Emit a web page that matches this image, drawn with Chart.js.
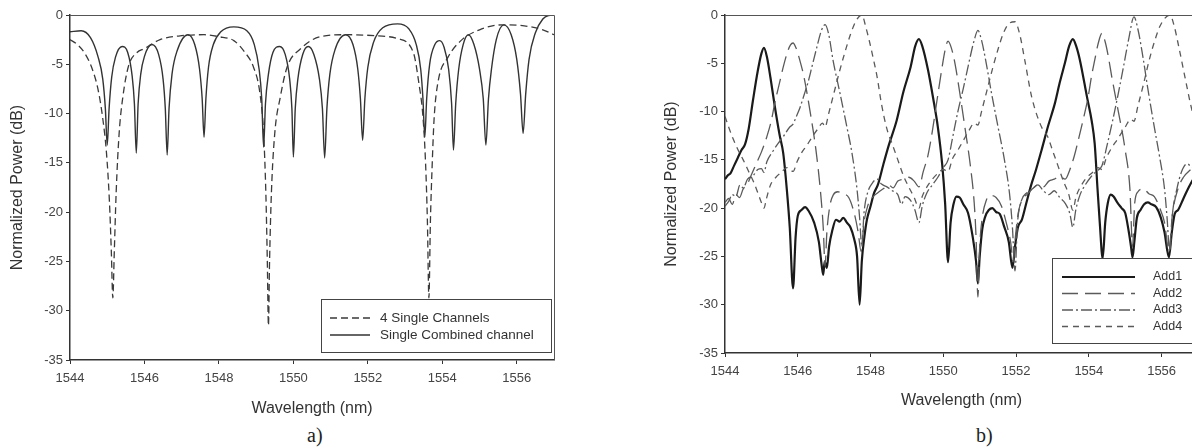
<!DOCTYPE html>
<html>
<head>
<meta charset="utf-8">
<script src="https://cdn.jsdelivr.net/npm/chart.js@4.4.1/dist/chart.umd.min.js"></script>
<style>
  html, body { margin: 0; padding: 0; background: #fff; overflow: hidden; width: 1192px; height: 448px; }
  #wrapA { position: absolute; left: 0; top: 0; width: 590px; height: 420px; }
  #wrapB { position: absolute; left: 590px; top: 0; width: 620px; height: 420px; }
  .cap { position: absolute; top: 424px; font-family: "Liberation Serif", "DejaVu Serif", serif; font-size: 20px; color: #222; }
</style>
</head>
<body>
<div id="wrapA"><canvas id="chart-a" width="590" height="420"></canvas></div>
<div id="wrapB"><canvas id="chart-b" width="620" height="420"></canvas></div>
<div class="cap" style="left:307px">a)</div>
<div class="cap" style="left:976px">b)</div>
<script>
// --- DATA ---
// [wavelength nm, normalized power dB]
const xTicks = [1544, 1546, 1548, 1550, 1552, 1554, 1556];
const yTicks = [0, -5, -10, -15, -20, -25, -30, -35];

// panel a) dashed
const singleChannels = [
  [1544.0,-2.5],[1544.2,-3.0],[1544.4,-3.9],[1544.6,-5.5],[1544.75,-7.5],[1544.88,-10.5],[1544.98,-14],
  [1545.06,-19],[1545.11,-24],[1545.15,-28.7],[1545.19,-24],[1545.24,-18],[1545.32,-12],[1545.42,-8.3],
  [1545.57,-5.2],[1545.8,-3.8],[1546.0,-3.4],[1546.42,-2.5],[1547.0,-2.1],[1547.6,-2.0],[1548.0,-2.2],
  [1548.4,-2.6],[1548.7,-3.8],[1548.93,-5.3],[1549.1,-7.9],[1549.2,-12],[1549.26,-18],[1549.3,-25],
  [1549.33,-31.5],[1549.36,-25],[1549.41,-18],[1549.5,-12],[1549.65,-8.3],[1549.83,-5.3],[1550.2,-3.4],
  [1550.73,-2.2],[1551.45,-2.0],[1552.2,-2.1],[1552.8,-2.4],[1553.23,-3.9],[1553.37,-6.9],[1553.48,-10.3],
  [1553.55,-15],[1553.6,-21],[1553.64,-28.7],[1553.68,-21],[1553.73,-15],[1553.78,-10.5],[1553.88,-6.9],
  [1554.15,-4.3],[1554.5,-2.6],[1555.0,-1.5],[1555.6,-1.0],[1556.2,-1.1],[1556.7,-1.5],[1557.0,-2.0]
];

// panel a) solid
const combinedChannel = [
  [1544.0,-1.7],[1544.3,-1.6],[1544.55,-2.3],[1544.75,-4.2],[1544.88,-6.5],[1544.95,-9.5],[1545.0,-13.2],
  [1545.05,-9.5],[1545.12,-6.3],[1545.22,-4.3],[1545.4,-3.2],[1545.55,-3.8],[1545.67,-6.2],[1545.73,-9],
  [1545.78,-14.0],[1545.83,-9],[1545.9,-6],[1546.0,-4.2],[1546.2,-3.0],[1546.38,-4],[1546.5,-6.5],
  [1546.56,-9.5],[1546.61,-14.2],[1546.66,-9.5],[1546.74,-6],[1546.88,-3.6],[1547.17,-2.0],[1547.35,-3],
  [1547.48,-5.5],[1547.55,-8.5],[1547.6,-12.4],[1547.65,-8.5],[1547.72,-5.3],[1547.85,-3],[1548.05,-1.7],
  [1548.4,-1.2],[1548.75,-1.6],[1548.95,-3],[1549.08,-5.5],[1549.15,-8.5],[1549.2,-13.4],[1549.25,-9],
  [1549.33,-6],[1549.45,-3.8],[1549.63,-3.2],[1549.78,-4],[1549.9,-6.5],[1549.96,-9.5],[1550.0,-14.4],
  [1550.05,-9.5],[1550.12,-6.5],[1550.25,-4],[1550.4,-3.2],[1550.55,-4],[1550.7,-6.5],[1550.78,-9.5],
  [1550.84,-14.5],[1550.9,-9.5],[1550.98,-6],[1551.12,-3.5],[1551.4,-2.0],[1551.6,-3],[1551.73,-5.5],
  [1551.8,-8.5],[1551.86,-12.7],[1551.92,-8.5],[1552.0,-5.3],[1552.15,-2.8],[1552.4,-1.3],[1552.8,-0.9],
  [1553.1,-1.4],[1553.3,-3],[1553.42,-5.5],[1553.48,-8.5],[1553.53,-12.4],[1553.58,-8.5],[1553.66,-5],
  [1553.8,-3],[1553.93,-2.6],[1554.05,-3.3],[1554.17,-5.5],[1554.25,-9],[1554.3,-13.7],[1554.36,-9],
  [1554.44,-5.5],[1554.56,-3],[1554.7,-2.0],[1554.85,-3],[1555.0,-5.5],[1555.1,-8.5],[1555.17,-13.2],
  [1555.24,-8.5],[1555.32,-5.5],[1555.45,-2.5],[1555.65,-1.0],[1555.85,-2],[1556.0,-4.5],[1556.1,-8],
  [1556.17,-12.0],[1556.24,-8],[1556.33,-4.5],[1556.5,-1.8],[1556.7,-0.4],[1556.85,-0.05],[1557.0,0]
];

// panel b) Add1..Add4
const add1 = [
  [1544.0,-17.0],[1544.08,-16.6],[1544.15,-16.4],[1544.25,-15.6],[1544.35,-14.8],[1544.45,-14.0],[1544.55,-13.4],
  [1544.65,-11.8],[1544.77,-8.8],[1544.9,-5.8],[1545.0,-4.0],[1545.07,-3.4],[1545.15,-4.3],[1545.25,-6.5],
  [1545.37,-9.5],[1545.5,-12.4],[1545.6,-14.3],[1545.7,-18.1],[1545.78,-22.0],[1545.87,-28.3],[1545.94,-23.0],
  [1546.0,-20.8],[1546.1,-20.2],[1546.2,-19.9],[1546.3,-20.3],[1546.45,-21.5],[1546.58,-23.5],[1546.66,-26.0],
  [1546.7,-26.9],[1546.74,-25.5],[1546.8,-26.2],[1546.86,-24.0],[1546.95,-22.3],[1547.05,-21.2],[1547.15,-21.4],
  [1547.25,-21.0],[1547.35,-21.5],[1547.45,-22.0],[1547.55,-23.2],[1547.63,-25.0],[1547.7,-30.0],[1547.76,-25.5],
  [1547.83,-23.0],[1547.9,-21.2],[1548.0,-19.8],[1548.1,-18.4],[1548.2,-17.6],[1548.35,-15.5],[1548.5,-13.5],
  [1548.72,-10.9],[1548.9,-8.0],[1549.1,-5.4],[1549.23,-3.2],[1549.33,-2.5],[1549.42,-3.2],[1549.58,-5.7],
  [1549.72,-8.6],[1549.85,-11.6],[1549.97,-15.5],[1550.05,-19.5],[1550.13,-25.6],[1550.2,-21.5],[1550.28,-19.6],
  [1550.36,-18.8],[1550.45,-18.9],[1550.55,-19.6],[1550.68,-20.5],[1550.8,-22.8],[1550.9,-25.5],[1550.95,-27.8],
  [1551.0,-25.0],[1551.07,-22.2],[1551.15,-20.9],[1551.25,-20.2],[1551.35,-20.0],[1551.45,-20.4],[1551.55,-20.6],
  [1551.68,-22.0],[1551.8,-23.5],[1551.9,-26.2],[1551.97,-24.0],[1552.05,-22.0],[1552.16,-21.2],[1552.28,-19.5],
  [1552.4,-17.8],[1552.55,-16.0],[1552.7,-14.0],[1552.88,-11.5],[1553.07,-9.1],[1553.2,-7.0],[1553.34,-5.0],
  [1553.46,-3.2],[1553.56,-2.5],[1553.65,-3.2],[1553.75,-4.6],[1553.95,-8.5],[1554.08,-11.0],[1554.16,-13.3],
  [1554.24,-18.1],[1554.3,-21.5],[1554.38,-25.2],[1554.45,-21.5],[1554.52,-19.5],[1554.6,-18.6],[1554.68,-18.8],
  [1554.78,-19.4],[1554.9,-20.0],[1555.0,-20.5],[1555.1,-22.5],[1555.16,-24.0],[1555.2,-25.1],[1555.25,-23.5],
  [1555.32,-21.0],[1555.42,-20.2],[1555.52,-19.6],[1555.62,-19.4],[1555.72,-19.6],[1555.85,-19.9],[1555.98,-21.0],
  [1556.08,-22.5],[1556.2,-25.1],[1556.28,-22.5],[1556.36,-20.6],[1556.45,-20.2],[1556.6,-19.0],[1556.75,-17.8],
  [1556.9,-16.8],[1557.0,-16.2]
];
const add2 = [
  [1544.0,-19.4],[1544.1,-19.0],[1544.2,-19.6],[1544.3,-18.6],[1544.4,-18.9],[1544.5,-18.0],[1544.6,-17.6],
  [1544.72,-16.6],[1544.87,-15.3],[1545.0,-14.2],[1545.15,-12.6],[1545.27,-11.0],[1545.37,-9.1],[1545.5,-7.0],
  [1545.6,-5.4],[1545.72,-3.8],[1545.8,-3.1],[1545.87,-2.9],[1545.95,-3.4],[1546.05,-4.6],[1546.17,-6.4],
  [1546.33,-9.8],[1546.5,-14.0],[1546.62,-18.1],[1546.7,-22.0],[1546.75,-26.0],[1546.8,-22.5],[1546.88,-19.8],
  [1546.98,-18.6],[1547.1,-18.3],[1547.25,-18.5],[1547.4,-18.9],[1547.55,-20.5],[1547.66,-22.5],[1547.74,-24.5],
  [1547.82,-21.5],[1547.92,-19.8],[1548.05,-18.9],[1548.2,-18.4],[1548.35,-18.0],[1548.5,-17.6],[1548.62,-17.9],
  [1548.75,-17.2],[1548.9,-17.0],[1549.05,-16.8],[1549.2,-17.2],[1549.33,-17.8],[1549.45,-16.2],[1549.58,-14.5],
  [1549.7,-12.0],[1549.82,-9.0],[1549.95,-5.8],[1550.05,-3.6],[1550.13,-2.7],[1550.22,-3.4],[1550.32,-5.0],
  [1550.45,-8.0],[1550.6,-11.8],[1550.75,-15.8],[1550.85,-19.5],[1550.9,-23.0],[1550.95,-29.2],[1551.0,-24.0],
  [1551.07,-21.0],[1551.18,-19.2],[1551.3,-18.7],[1551.45,-18.9],[1551.6,-19.8],[1551.75,-21.8],[1551.85,-23.5],
  [1551.92,-25.5],[1551.98,-23.0],[1552.06,-20.5],[1552.18,-19.0],[1552.3,-18.6],[1552.45,-18.0],[1552.6,-17.6],
  [1552.75,-17.8],[1552.9,-17.2],[1553.05,-17.0],[1553.2,-16.7],[1553.35,-17.0],[1553.48,-16.0],[1553.6,-14.6],
  [1553.72,-12.8],[1553.84,-10.9],[1553.98,-8.5],[1554.08,-6.2],[1554.16,-4.7],[1554.26,-2.9],[1554.36,-1.9],
  [1554.45,-2.8],[1554.53,-4.2],[1554.63,-6.4],[1554.8,-9.8],[1555.0,-14.0],[1555.13,-18.1],[1555.2,-24.0],
  [1555.26,-19.5],[1555.35,-18.3],[1555.5,-18.0],[1555.65,-18.5],[1555.8,-18.8],[1555.95,-20.0],[1556.08,-21.5],
  [1556.2,-24.5],[1556.3,-20.5],[1556.45,-18.0],[1556.6,-16.8],[1556.8,-16.0],[1557.0,-15.4]
];
const add3 = [
  [1544.0,-19.8],[1544.1,-19.3],[1544.2,-18.6],[1544.3,-18.8],[1544.41,-17.6],[1544.5,-17.9],[1544.62,-17.0],
  [1544.78,-16.6],[1544.9,-16.0],[1545.0,-15.9],[1545.07,-16.3],[1545.15,-15.2],[1545.3,-14.2],[1545.46,-13.3],
  [1545.6,-12.6],[1545.78,-11.6],[1545.87,-11.3],[1545.95,-10.6],[1546.06,-9.6],[1546.18,-8.2],[1546.28,-7.0],
  [1546.4,-5.2],[1546.52,-3.4],[1546.65,-1.6],[1546.75,-1.0],[1546.85,-2.0],[1546.97,-4.7],[1547.16,-8.1],
  [1547.35,-11.6],[1547.49,-14.3],[1547.63,-18.1],[1547.7,-21.0],[1547.76,-24.0],[1547.82,-20.5],[1547.92,-18.4],
  [1548.05,-17.4],[1548.18,-17.0],[1548.3,-17.5],[1548.45,-17.8],[1548.6,-18.2],[1548.75,-18.6],[1548.85,-19.6],
  [1548.95,-18.8],[1549.1,-19.2],[1549.22,-20.2],[1549.33,-21.5],[1549.42,-19.8],[1549.55,-18.4],[1549.7,-17.6],
  [1549.85,-16.8],[1550.0,-15.8],[1550.13,-15.0],[1550.25,-12.8],[1550.4,-10.0],[1550.55,-7.6],[1550.7,-5.0],
  [1550.85,-2.6],[1550.95,-1.6],[1551.05,-2.6],[1551.18,-5.0],[1551.32,-8.0],[1551.5,-11.5],[1551.68,-15.0],
  [1551.82,-18.5],[1551.9,-22.0],[1551.97,-26.5],[1552.04,-21.5],[1552.15,-19.2],[1552.3,-18.4],[1552.45,-18.0],
  [1552.6,-17.6],[1552.75,-18.2],[1552.9,-18.6],[1553.05,-18.2],[1553.2,-18.9],[1553.35,-19.5],[1553.48,-20.6],
  [1553.56,-22.0],[1553.64,-20.2],[1553.76,-18.6],[1553.9,-17.6],[1554.05,-16.8],[1554.2,-16.2],[1554.36,-15.6],
  [1554.5,-13.5],[1554.65,-11.0],[1554.8,-8.3],[1554.95,-5.4],[1555.1,-2.4],[1555.24,-0.2],[1555.35,-1.5],
  [1555.48,-4.2],[1555.62,-7.6],[1555.78,-11.2],[1555.95,-14.8],[1556.08,-18.0],[1556.15,-21.0],[1556.22,-24.5],
  [1556.3,-20.5],[1556.42,-18.0],[1556.55,-16.2],[1556.7,-15.4],[1556.85,-15.8],[1557.0,-15.0]
];
const add4 = [
  [1544.0,-10.5],[1544.1,-11.6],[1544.22,-12.8],[1544.35,-13.9],[1544.5,-15.0],[1544.65,-16.2],[1544.8,-17.4],
  [1544.92,-18.6],[1545.02,-19.6],[1545.07,-20.0],[1545.14,-19.0],[1545.25,-17.6],[1545.4,-16.8],[1545.55,-16.3],
  [1545.7,-15.8],[1545.87,-16.2],[1545.98,-15.2],[1546.1,-14.3],[1546.25,-13.5],[1546.4,-12.6],[1546.55,-11.8],
  [1546.68,-11.2],[1546.75,-11.6],[1546.85,-10.2],[1547.0,-8.0],[1547.15,-5.8],[1547.3,-3.8],[1547.45,-2.0],
  [1547.6,-0.6],[1547.76,0.0],[1547.88,-1.4],[1547.98,-2.9],[1548.08,-4.6],[1548.18,-6.4],[1548.3,-9.2],
  [1548.45,-11.8],[1548.6,-13.4],[1548.75,-15.0],[1548.9,-16.6],[1549.05,-17.8],[1549.2,-18.9],[1549.33,-20.0],
  [1549.42,-18.8],[1549.55,-17.8],[1549.7,-17.0],[1549.85,-16.4],[1550.0,-16.0],[1550.13,-16.2],[1550.25,-14.9],
  [1550.4,-14.0],[1550.55,-13.0],[1550.7,-12.0],[1550.85,-11.2],[1550.95,-11.4],[1551.05,-10.0],[1551.2,-7.8],
  [1551.35,-5.6],[1551.5,-3.6],[1551.65,-1.9],[1551.8,-0.9],[1551.97,-0.7],[1552.1,-2.0],[1552.24,-4.7],
  [1552.43,-8.5],[1552.7,-11.6],[1552.87,-12.6],[1553.0,-14.0],[1553.15,-15.6],[1553.3,-17.2],[1553.45,-18.6],
  [1553.56,-20.2],[1553.65,-18.8],[1553.8,-17.6],[1553.95,-16.8],[1554.1,-16.3],[1554.25,-15.8],[1554.36,-16.0],
  [1554.48,-14.8],[1554.62,-13.8],[1554.8,-12.8],[1555.0,-11.6],[1555.15,-10.8],[1555.24,-11.0],[1555.35,-9.4],
  [1555.5,-7.2],[1555.65,-4.8],[1555.8,-2.8],[1555.95,-1.2],[1556.1,-0.3],[1556.23,0.0],[1556.35,-1.2],
  [1556.45,-2.9],[1556.64,-6.4],[1556.83,-9.8],[1557.0,-12.0]
];

// --- UTILS ---
const FONT = '"Liberation Sans", Arial, sans-serif';
const toXY = (arr) => arr.map(p => ({ x: p[0], y: p[1] }));

function lineSet(label, arr, color, width, dash) {
  return {
    label: label,
    data: toXY(arr),
    borderColor: color,
    borderWidth: width,
    borderDash: dash,
    pointRadius: 0,
    fill: false,
    cubicInterpolationMode: 'monotone'
  };
}

// box round the plot (top + right edges) and the inset legend
const framePlugin = {
  id: 'frame',
  afterDatasetsDraw(chart, args, opts) {
    const ctx = chart.ctx;
    const a = chart.chartArea;
    ctx.save();
    ctx.strokeStyle = '#555';
    ctx.lineWidth = 1;
    ctx.beginPath();
    ctx.moveTo(a.left, a.top + 0.5);
    ctx.lineTo(a.right + 0.5, a.top + 0.5);
    ctx.lineTo(a.right + 0.5, a.bottom);
    ctx.stroke();

    const lg = opts.legend;
    if (lg) {
      ctx.fillStyle = '#fff';
      ctx.fillRect(lg.x, lg.y, lg.w, lg.h);
      ctx.strokeStyle = '#444';
      ctx.strokeRect(lg.x + 0.5, lg.y + 0.5, lg.w, lg.h);
      ctx.font = lg.size + 'px ' + FONT;
      ctx.textBaseline = 'middle';
      lg.rows.forEach((r, i) => {
        const y = lg.firstRow + i * lg.rowGap;
        ctx.strokeStyle = r.color;
        ctx.lineWidth = r.width;
        ctx.setLineDash(r.dash || []);
        ctx.beginPath();
        ctx.moveTo(lg.x1, y);
        ctx.lineTo(lg.x2, y);
        ctx.stroke();
        ctx.setLineDash([]);
        ctx.fillStyle = '#333';
        ctx.fillText(r.text, lg.tx, y);
      });
    }
    ctx.restore();
  }
};

function axes(yWidth, xHeight, yTitlePad, xTitlePad) {
  return {
    x: {
      type: 'linear', min: 1544, max: 1557,
      afterFit: (s) => { s.height = xHeight; },
      afterBuildTicks: (s) => { s.ticks = xTicks.map(v => ({ value: v })); },
      grid: { drawOnChartArea: false, drawTicks: true, tickLength: 4, color: '#333' },
      border: { color: '#333', width: 1.5 },
      ticks: { color: '#444', font: { family: FONT, size: 13 }, padding: 7, maxRotation: 0, callback: (v) => String(v) },
      title: { display: true, text: 'Wavelength (nm)', color: '#333', font: { family: FONT, size: 16 }, padding: { top: 0, bottom: xTitlePad } }
    },
    y: {
      type: 'linear', min: -35, max: 0,
      afterFit: (s) => { s.width = yWidth; },
      afterBuildTicks: (s) => { s.ticks = yTicks.map(v => ({ value: v })); },
      grid: { drawOnChartArea: false, drawTicks: true, tickLength: 4, color: '#333' },
      border: { color: '#333', width: 1.5 },
      ticks: { color: '#444', font: { family: FONT, size: 13 }, padding: 3, callback: (v) => String(v) },
      title: { display: true, text: 'Normalized Power (dB)', color: '#333', font: { family: FONT, size: 16 }, padding: { top: yTitlePad, bottom: 0 } }
    }
  };
}

// --- CHARTS ---
function renderPanelA() {
  const ctx = document.getElementById('chart-a').getContext('2d');
  new Chart(ctx, {
    type: 'line',
    data: {
      datasets: [
        lineSet('4 Single Channels', singleChannels, '#3a3a3a', 1.3, [7, 4]),
        lineSet('Single Combined channel', combinedChannel, '#333', 1.4, [])
      ]
    },
    options: {
      responsive: false,
      animation: false,
      layout: { padding: { left: 0, top: 15, right: 36, bottom: 0 } },
      plugins: {
        legend: { display: false },
        tooltip: { enabled: false },
        frame: {
          legend: {
            x: 321, y: 299, w: 230, h: 53, size: 13.5, firstRow: 318, rowGap: 17, x1: 330, x2: 370, tx: 380,
            rows: [
              { text: '4 Single Channels', color: '#3a3a3a', width: 1.3, dash: [7, 4] },
              { text: 'Single Combined channel', color: '#333', width: 1.4 }
            ]
          }
        }
      },
      scales: axes(70, 60, 8, 2)
    },
    plugins: [framePlugin]
  });
}

function renderPanelB() {
  const ctx = document.getElementById('chart-b').getContext('2d');
  new Chart(ctx, {
    type: 'line',
    data: {
      datasets: [
        lineSet('Add2', add2, '#5a5a5a', 1.3, [16, 7]),
        lineSet('Add3', add3, '#5a5a5a', 1.3, [11, 3, 2, 3]),
        lineSet('Add4', add4, '#5a5a5a', 1.3, [6, 5]),
        lineSet('Add1', add1, '#1a1a1a', 2.2, [])
      ]
    },
    options: {
      responsive: false,
      animation: false,
      layout: { padding: { left: 55, top: 15, right: 12, bottom: 0 } },
      plugins: {
        legend: { display: false },
        tooltip: { enabled: false },
        frame: {
          legend: {
            x: 462, y: 258, w: 200, h: 85, size: 12.5, firstRow: 277, rowGap: 16.5, x1: 472, x2: 545, tx: 563,
            rows: [
              { text: 'Add1', color: '#1a1a1a', width: 2.2 },
              { text: 'Add2', color: '#5a5a5a', width: 1.3, dash: [16, 7] },
              { text: 'Add3', color: '#5a5a5a', width: 1.3, dash: [11, 3, 2, 3] },
              { text: 'Add4', color: '#5a5a5a', width: 1.3, dash: [6, 5] }
            ]
          }
        }
      },
      scales: axes(80, 67, 17, 10)
    },
    plugins: [framePlugin]
  });
}

// Initialize
renderPanelA();
renderPanelB();
</script>
</body>
</html>
